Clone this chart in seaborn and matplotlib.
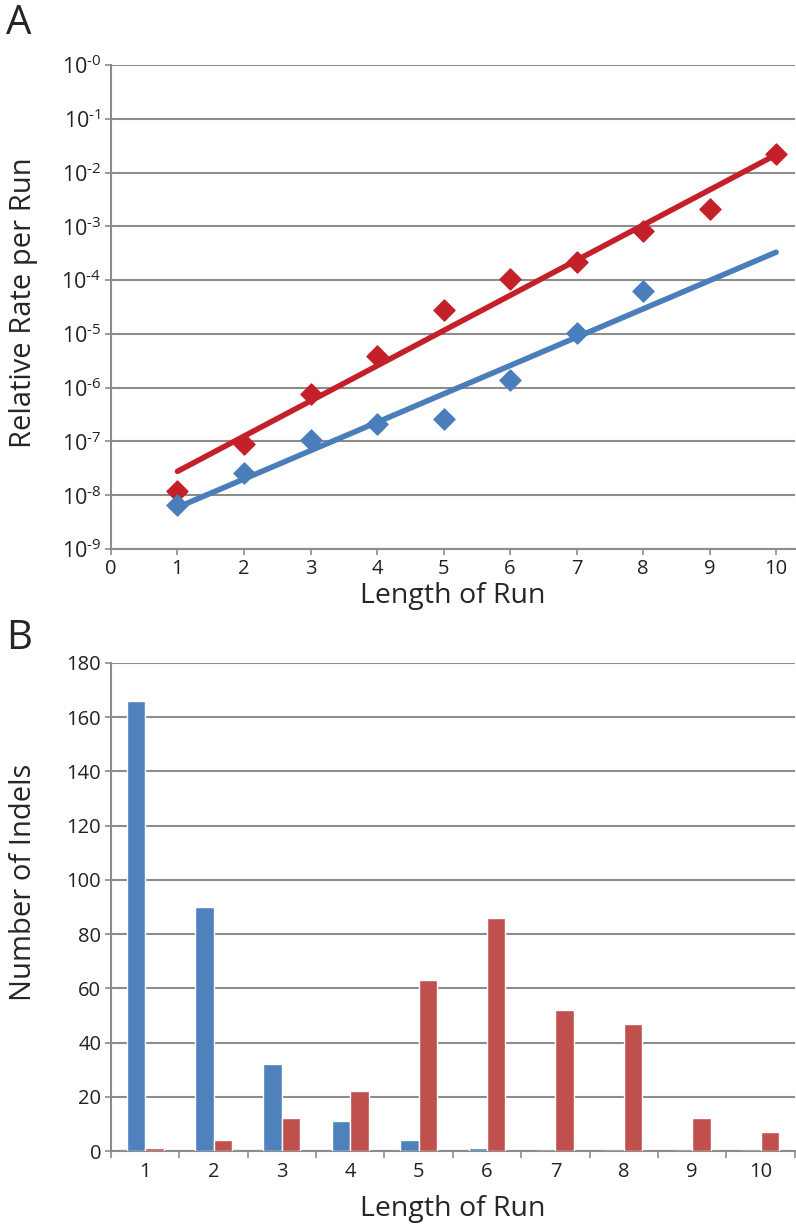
import numpy as np
import pandas as pd
import matplotlib
matplotlib.use("Agg")
import matplotlib.pyplot as plt
import matplotlib.ticker as mticker
import seaborn as sns

# ---------------- data ----------------
run_length = [1, 2, 3, 4, 5, 6, 7, 8, 9, 10]

# panel A : relative rate per run
red_x = [1, 2, 3, 4, 5, 6, 7, 8, 9, 10]
red_rate = [1.2e-8, 8.9e-8, 7.6e-7, 3.9e-6, 2.8e-5, 1.05e-4, 2.2e-4, 8.1e-4, 2.1e-3, 2.2e-2]
blue_x = [1, 2, 3, 4, 5, 6, 7, 8]
blue_rate = [6.6e-9, 2.6e-8, 1.07e-7, 2.1e-7, 2.6e-7, 1.4e-6, 1.05e-5, 6.2e-5]

# panel B : number of indels
blue_counts = [166, 90, 32, 11, 4, 1, 0, 0, 0, 0]
red_counts = [1, 4, 12, 22, 63, 86, 52, 47, 12, 7]

BLUE_PT = "#4A7EBB"
RED_PT = "#C4202A"
BLUE_BAR = "#4F81BD"
RED_BAR = "#C0504D"
GRID = "#8C8C8C"

sns.set_style("white")
plt.rcParams['font.family'] = ['Open Sans', 'DejaVu Sans']
plt.rcParams['mathtext.fontset'] = 'custom'
plt.rcParams['mathtext.rm'] = 'Open Sans'

fig = plt.figure(figsize=(7.96, 12.25), dpi=100)
axA = fig.add_axes([0.1394, 0.5518, 0.859, 0.3951])
axB = fig.add_axes([0.1394, 0.0604, 0.859, 0.3984])


def style_axes(ax):
    for s in ['top', 'right']:
        ax.spines[s].set_visible(False)
    for s in ['left', 'bottom']:
        ax.spines[s].set_color(GRID)
        ax.spines[s].set_linewidth(1.5)
    ax.yaxis.grid(True, color=GRID, linewidth=1.5)
    ax.xaxis.grid(False)
    ax.set_axisbelow(True)
    ax.tick_params(axis='both', which='both', direction='out', color=GRID,
                   width=1.2, length=4, labelsize=14.5, labelcolor='#222222', pad=3)
    ax.tick_params(axis='both', which='both', left=True, bottom=True)


# ================= Panel A =================
sns.scatterplot(x=red_x, y=red_rate, marker='D', s=115, color=RED_PT,
                edgecolor=RED_PT, linewidth=1, ax=axA, zorder=3)
sns.scatterplot(x=blue_x, y=blue_rate, marker='D', s=115, color=BLUE_PT,
                edgecolor=BLUE_PT, linewidth=1, ax=axA, zorder=3)

# exponential trend lines (least squares on log10 values)
fit_x = np.array([1, 10])
rk = np.polyfit(red_x, np.log10(red_rate), 1)
bk = np.polyfit(blue_x, np.log10(blue_rate), 1)
sns.lineplot(x=fit_x, y=10 ** np.polyval(rk, fit_x), color=RED_PT, linewidth=4,
             ax=axA, zorder=4)
sns.lineplot(x=fit_x, y=10 ** np.polyval(bk, fit_x), color=BLUE_PT, linewidth=4,
             ax=axA, zorder=4)

axA.set_yscale('log')
axA.set_ylim(1e-9, 1e0)
axA.set_xlim(0, 10.28)
axA.yaxis.set_major_locator(mticker.FixedLocator([10.0 ** -k for k in range(10)]))
axA.yaxis.set_minor_locator(mticker.NullLocator())
axA.yaxis.set_major_formatter(mticker.FuncFormatter(
    lambda v, p: r'$\mathregular{10^{\text{-}%d}}$' % round(-np.log10(v))))
axA.set_xticks(range(0, 11))
style_axes(axA)
axA.tick_params(axis='y', labelsize=15.5)
axA.set_xlabel("Length of Run", fontsize=20.5)
axA.set_ylabel("Relative Rate per Run", fontsize=21)
axA.xaxis.set_label_coords(0.5, -0.068)
axA.yaxis.set_label_coords(-0.107, 0.51)

# ================= Panel B =================
df = pd.DataFrame({
    'length': [str(v) for v in run_length] * 2,
    'count': blue_counts + red_counts,
    'series': ['blue'] * len(run_length) + ['red'] * len(run_length),
})
sns.barplot(data=df, x='length', y='count', hue='series',
            palette=[BLUE_BAR, RED_BAR], saturation=1, width=0.54,
            dodge=True, ax=axB, zorder=3)
if axB.get_legend() is not None:
    axB.get_legend().remove()
axB.set_ylim(0, 180)
axB.set_yticks(range(0, 181, 20))
axB.set_xlim(-0.5, 9.5)
style_axes(axB)
axB.xaxis.set_minor_locator(mticker.FixedLocator(np.arange(-0.5, 10, 1)))
axB.tick_params(axis='x', which='major', length=0, pad=8)
axB.tick_params(axis='x', which='minor', length=5)
axB.set_xlabel("Length of Run", fontsize=20.5)
axB.set_ylabel("Number of Indels", fontsize=21)
axB.xaxis.set_label_coords(0.5, -0.09)
axB.yaxis.set_label_coords(-0.107, 0.55)

fig.text(6 / 796, 1 - 4 / 1225, "A", fontsize=29, va='top', ha='left')
fig.text(6 / 796, 1 - 618 / 1225, "B", fontsize=29, va='top', ha='left')

fig.savefig("out.png", dpi=100)
